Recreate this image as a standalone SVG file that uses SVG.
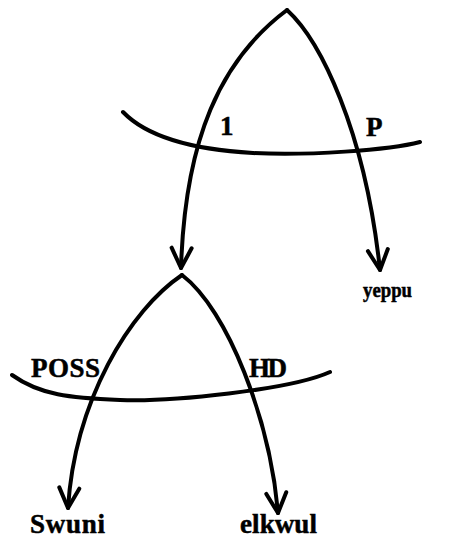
<svg xmlns="http://www.w3.org/2000/svg" width="450" height="539" viewBox="0 0 450 539">
<style>
.c{fill:none;stroke:#000;stroke-width:4;stroke-linecap:round;stroke-linejoin:round}
.t{font-family:"Liberation Serif","Times New Roman",serif;font-weight:bold;fill:#000;stroke:#000;stroke-width:0.5}
</style>
<defs>
<marker id="ah" markerUnits="userSpaceOnUse" markerWidth="30" markerHeight="30" viewBox="-24 -15 30 30" refX="0" refY="0" orient="auto">
<path d="M-20,-10 L0,0 L-20,10" fill="none" stroke="#000" stroke-width="4" stroke-linecap="round" stroke-linejoin="round"/>
</marker>
</defs>
<rect width="450" height="539" fill="#fff"/>
<g id="connectors">
<path class="c" d="M287,10 C220,60 185,140 181,268" marker-end="url(#ah)"/>
<path class="c" d="M287,10 C320,40 365,130 380,270" marker-end="url(#ah)"/>
<path class="c" d="M123,112 C150,140 200,150 253,153 S390,150 420,142"/>
<path class="c" d="M182,275 C130,310 75,400 68,508" marker-end="url(#ah)"/>
<path class="c" d="M182,275 C228,310 270,420 278,513" marker-end="url(#ah)"/>
<path class="c" d="M12,375 C40,395 70,398 120,400 S290,390 330,372"/>
</g>
<g id="label-1"><text class="t" x="220" y="135" font-size="27">1</text></g>
<g id="label-P"><text class="t" x="366" y="136" font-size="27">P</text></g>
<g id="node-yeppu"><text class="t" x="363" y="297" font-size="20" textLength="49" lengthAdjust="spacingAndGlyphs">yeppu</text></g>
<g id="label-POSS"><text class="t" x="31" y="377" font-size="27" textLength="69">POSS</text></g>
<g id="label-HD"><text class="t" x="249" y="377" font-size="27" textLength="38">HD</text></g>
<g id="node-Swuni"><text class="t" x="30" y="533" font-size="27" textLength="75">Swuni</text></g>
<g id="node-elkwul"><text class="t" x="240" y="533" font-size="27" textLength="77">elkwul</text></g>
</svg>
